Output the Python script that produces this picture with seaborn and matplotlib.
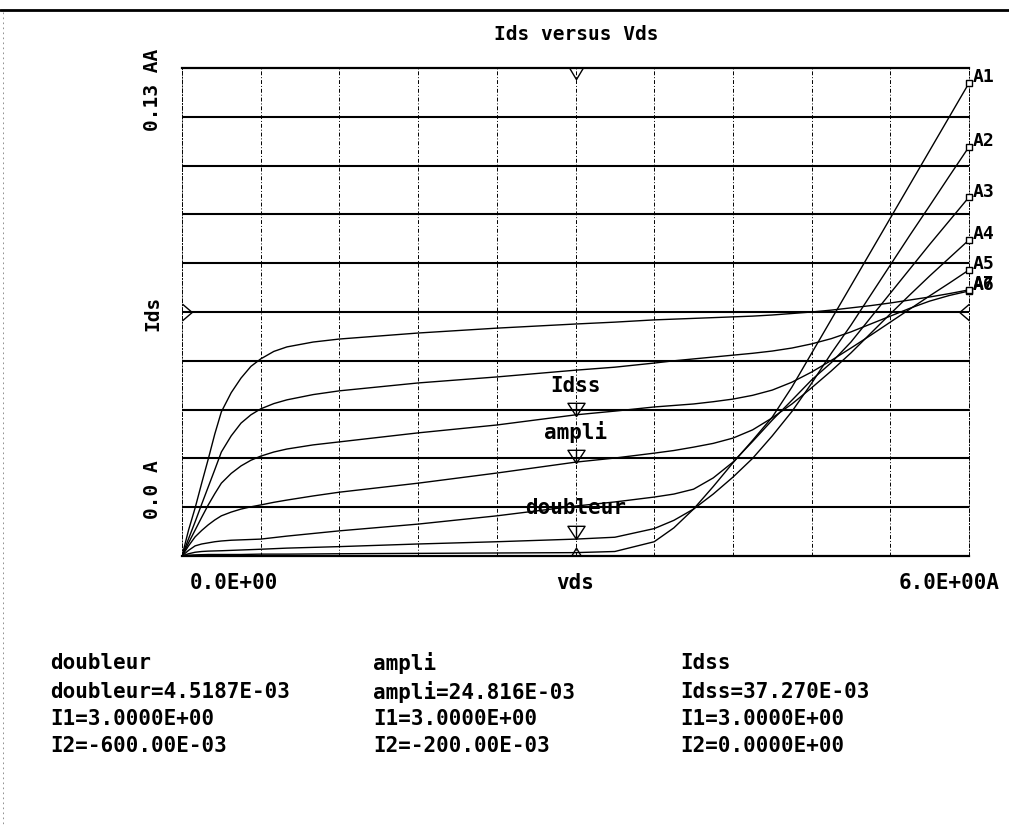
import numpy as np
import pandas as pd
import matplotlib
matplotlib.use("Agg")
import matplotlib.pyplot as plt
import seaborn as sns
from matplotlib.path import Path
from matplotlib.lines import Line2D

# ---------------- data (Vds in V, Ids in mA) ----------------
vds = [0, 0.05, 0.1, 0.15, 0.2, 0.25, 0.3, 0.375, 0.45, 0.525, 0.6, 0.7, 0.8, 1.0, 1.2,
       1.8, 2.4, 3.0, 3.3, 3.6,
       3.75, 3.9, 4.05, 4.2, 4.35, 4.5, 4.65, 4.8, 4.95, 5.1, 5.25, 5.4, 5.55, 5.7, 5.85, 6.0]
ids_a1 = [0, 0.2, 0.3, 0.35, 0.4, 0.4, 0.4, 0.4, 0.4, 0.45, 0.5, 0.5, 0.5, 0.55, 0.6,
          0.7, 0.8, 0.9, 1.2, 3.8,
          7.5, 12.5, 18.5, 24.8, 30.8, 37.0, 45.0, 54.0, 63.0, 72.0, 81.0, 90.0, 99.0, 108.0, 117.0, 126.0]
ids_a2 = [0, 0.6, 1.0, 1.2, 1.3, 1.35, 1.4, 1.5, 1.6, 1.7, 1.8, 1.95, 2.1, 2.3, 2.5,
          3.2, 3.8, 4.5, 5.0, 7.3,
          9.5, 12.5, 16.5, 21.0, 26.0, 32.0, 38.5, 46.0, 54.0, 61.5, 69.5, 77.5, 85.5, 93.3, 101.2, 109.0]
ids_a3 = [0, 1.5, 2.7, 3.2, 3.5, 3.8, 4.0, 4.2, 4.3, 4.4, 4.5, 4.9, 5.3, 6.0, 6.7,
          8.5, 10.7, 13.3, 14.4, 15.7,
          16.5, 17.8, 20.8, 25.0, 30.5, 36.2, 41.5, 46.9, 51.5, 57.0, 63.5, 70.0, 76.5, 83.0, 89.3, 95.6]
ids_a4 = [0, 2.7, 5.1, 6.8, 8.3, 9.6, 10.7, 11.7, 12.5, 13.1, 13.6, 14.3, 14.9, 16.0, 17.0,
          19.4, 22.1, 25.0, 26.1, 27.4,
          28.1, 29.0, 30.0, 31.4, 33.6, 36.8, 40.5, 44.8, 49.3, 54.1, 59.3, 64.5, 69.6, 74.6, 79.4, 84.2]
ids_a5 = [0, 3.5, 6.9, 10.3, 13.6, 16.6, 19.4, 22.0, 24.0, 25.5, 26.6, 27.7, 28.5, 29.6, 30.4,
          32.8, 34.9, 37.6, 38.6, 39.7,
          40.1, 40.5, 41.1, 41.8, 42.8, 44.2, 46.3, 49.0, 52.1, 55.4, 58.8, 62.3, 65.8, 69.3, 72.7, 76.2]
ids_a6 = [0, 4.6, 9.1, 13.8, 18.4, 23.0, 27.7, 32.0, 35.4, 37.6, 39.2, 40.6, 41.6, 43.0, 44.0,
          46.1, 47.7, 49.5, 50.3, 51.4,
          52.0, 52.5, 53.0, 53.5, 54.0, 54.6, 55.4, 56.5, 57.9, 59.7, 61.8, 63.9, 66.0, 67.9, 69.4, 70.6]
ids_a7 = [0, 6.9, 12.8, 19.4, 25.8, 32.5, 38.4, 43.5, 47.4, 50.5, 52.5, 54.5, 55.7, 57.0, 57.8,
          59.4, 60.7, 61.8, 62.3, 62.9,
          63.1, 63.3, 63.5, 63.7, 63.9, 64.2, 64.6, 65.0, 65.5, 66.1, 66.7, 67.4, 68.2, 69.0, 69.9, 70.9]
curve_names = ["A1", "A2", "A3", "A4", "A5", "A6", "A7"]
curves = [ids_a1, ids_a2, ids_a3, ids_a4, ids_a5, ids_a6, ids_a7]

marker_names = ["Idss", "ampli", "doubleur"]
marker_vds = [3.0, 3.0, 3.0]
marker_ids = [37.270e-3, 24.816e-3, 4.5187e-3]

readout_cols = [
    ["doubleur", "doubleur=4.5187E-03", "I1=3.0000E+00", "I2=-600.00E-03"],
    ["ampli", "ampli=24.816E-03", "I1=3.0000E+00", "I2=-200.00E-03"],
    ["Idss", "Idss=37.270E-03", "I1=3.0000E+00", "I2=0.0000E+00"],
]

x_min, x_max = 0.0, 6.0
y_min, y_max = 0.0, 0.13
cursor_x = 3.0
cursor_y = 0.065

# ---------------- figure ----------------
sns.set_theme(style="white")
plt.rcParams['font.family'] = ['DejaVu Sans Mono', 'DejaVu Sans']
plt.rcParams['text.color'] = 'black'

W, H = 1009, 827
fig = plt.figure(figsize=(W / 100, H / 100), dpi=100)
fig.patch.set_facecolor("white")
L, R, T, B = 182, 969, 68, 556
ax = fig.add_axes([L / W, 1 - B / H, (R - L) / W, (B - T) / H])

rows = []
for name, vals in zip(curve_names, curves):
    for v, i in zip(vds, vals):
        rows.append({"vds": v, "ids": i / 1000.0, "curve": name})
df = pd.DataFrame(rows)

sns.lineplot(data=df, x="vds", y="ids", hue="curve", palette=["black"] * 7,
             legend=False, ax=ax, linewidth=1.0, sort=False, estimator=None)

ax.set_xlim(x_min, x_max)
ax.set_ylim(y_min, y_max)
xt = np.linspace(x_min, x_max, 11)
yt = np.linspace(y_min, y_max, 11)
ax.set_xticks(xt)
ax.set_yticks(yt)
ax.tick_params(length=0, labelbottom=False, labelleft=False)
ax.set_xlabel("")
ax.set_ylabel("")
for y in yt[1:-1]:
    ax.axhline(y, color="black", lw=1.5, zorder=1)
for x in xt[1:-1]:
    ax.axvline(x, color="black", lw=0.7, ls=(0, (4, 2, 1, 2)), zorder=1)
for s in ["top", "bottom"]:
    ax.spines[s].set_color("black")
    ax.spines[s].set_linewidth(1.6)
for s in ["left", "right"]:
    ax.spines[s].set_color("black")
    ax.spines[s].set_linewidth(0.7)
    ax.spines[s].set_linestyle((0, (4, 2, 1, 2)))

# end squares + labels
ends = [c[-1] / 1000.0 for c in curves]
ax.scatter([vds[-1]] * len(ends), ends, marker="s", s=22, facecolors="white",
           edgecolors="black", linewidths=1.0, clip_on=False, zorder=5)
for name, e in zip(curve_names, ends):
    ax.annotate(name, (vds[-1], e), xytext=(3, 4), textcoords="offset points",
                fontsize=13, fontweight="bold", va="center", ha="left",
                annotation_clip=False, color="black")

# cursor markers (triangles with tip at the value)
tri = Path([(0, 0), (-0.65, 1), (0.65, 1), (0, 0), (0, 0.15), (0, 1)],
           [Path.MOVETO, Path.LINETO, Path.LINETO, Path.CLOSEPOLY, Path.MOVETO, Path.LINETO])
ax.plot(marker_vds, marker_ids, ls="none", marker=tri, ms=19, mfc="none",
        mec="black", mew=1.0, zorder=6)
for n, xv, yv in zip(marker_names, marker_vds, marker_ids):
    ax.annotate(n, (xv, yv), xytext=(0, 22), textcoords="offset points",
                fontsize=15, fontweight="bold", ha="center", va="center", color="black")

# axis cursor markers
vtop = Path([(-0.6, 0), (0, -1), (0.6, 0)], [Path.MOVETO, Path.LINETO, Path.LINETO])
vbot = Path([(-0.6, 0), (0, 1), (0.6, 0)], [Path.MOVETO, Path.LINETO, Path.LINETO])
lft = Path([(0, 0.6), (0.7, 0), (0, -0.6)], [Path.MOVETO, Path.LINETO, Path.LINETO])
rgt = Path([(0, 0.6), (-0.7, 0), (0, -0.6)], [Path.MOVETO, Path.LINETO, Path.LINETO])
ax.plot([cursor_x], [y_max], marker=vtop, ms=16, mfc="none", mec="black", mew=1.0, clip_on=False)
ax.plot([cursor_x], [y_min], marker=vbot, ms=12, mfc="none", mec="black", mew=1.0, clip_on=False)
ax.plot([x_min], [cursor_y], marker=lft, ms=14, mfc="none", mec="black", mew=1.0, clip_on=False)
ax.plot([x_max], [cursor_y], marker=rgt, ms=14, mfc="none", mec="black", mew=1.0, clip_on=False)


def fx(px):
    return px / W


def fy(py):
    return 1 - py / H


# title
fig.text(fx(576), fy(35), "Ids versus Vds", fontsize=14, fontweight="bold",
         ha="center", va="center", color="black")
# y labels
fig.text(fx(153), fy(90), "0.13 AA", fontsize=14, fontweight="bold", rotation=90,
         ha="center", va="center", color="black")
fig.text(fx(153), fy(313), "Ids", fontsize=14, fontweight="bold", rotation=90,
         ha="center", va="center", color="black")
fig.text(fx(153), fy(490), "0.0 A", fontsize=14, fontweight="bold", rotation=90,
         ha="center", va="center", color="black")
# x labels
fig.text(fx(190), fy(583), "0.0E+00", fontsize=15, fontweight="bold", ha="left", va="center", color="black")
fig.text(fx(575), fy(583), "vds", fontsize=15, fontweight="bold", ha="center", va="center", color="black")
fig.text(fx(1000), fy(583), "6.0E+00A", fontsize=15, fontweight="bold", ha="right", va="center", color="black")

# readouts
col_x = [50, 373, 680]
row_y = [663, 692, 719, 746]
for cx, col in zip(col_x, readout_cols):
    for ry, txt in zip(row_y, col):
        fig.text(fx(cx), fy(ry), txt, fontsize=15, fontweight="bold", ha="left",
                 va="center", color="black")

# page frame lines
fig.add_artist(Line2D([0, 1], [fy(10), fy(10)], transform=fig.transFigure,
                      color="black", lw=2.0))
fig.add_artist(Line2D([fx(3), fx(3)], [fy(12), fy(827)], transform=fig.transFigure,
                      color="gray", lw=0.6, ls=(0, (2, 4))))

fig.savefig("out.png", dpi=100, facecolor="white")
